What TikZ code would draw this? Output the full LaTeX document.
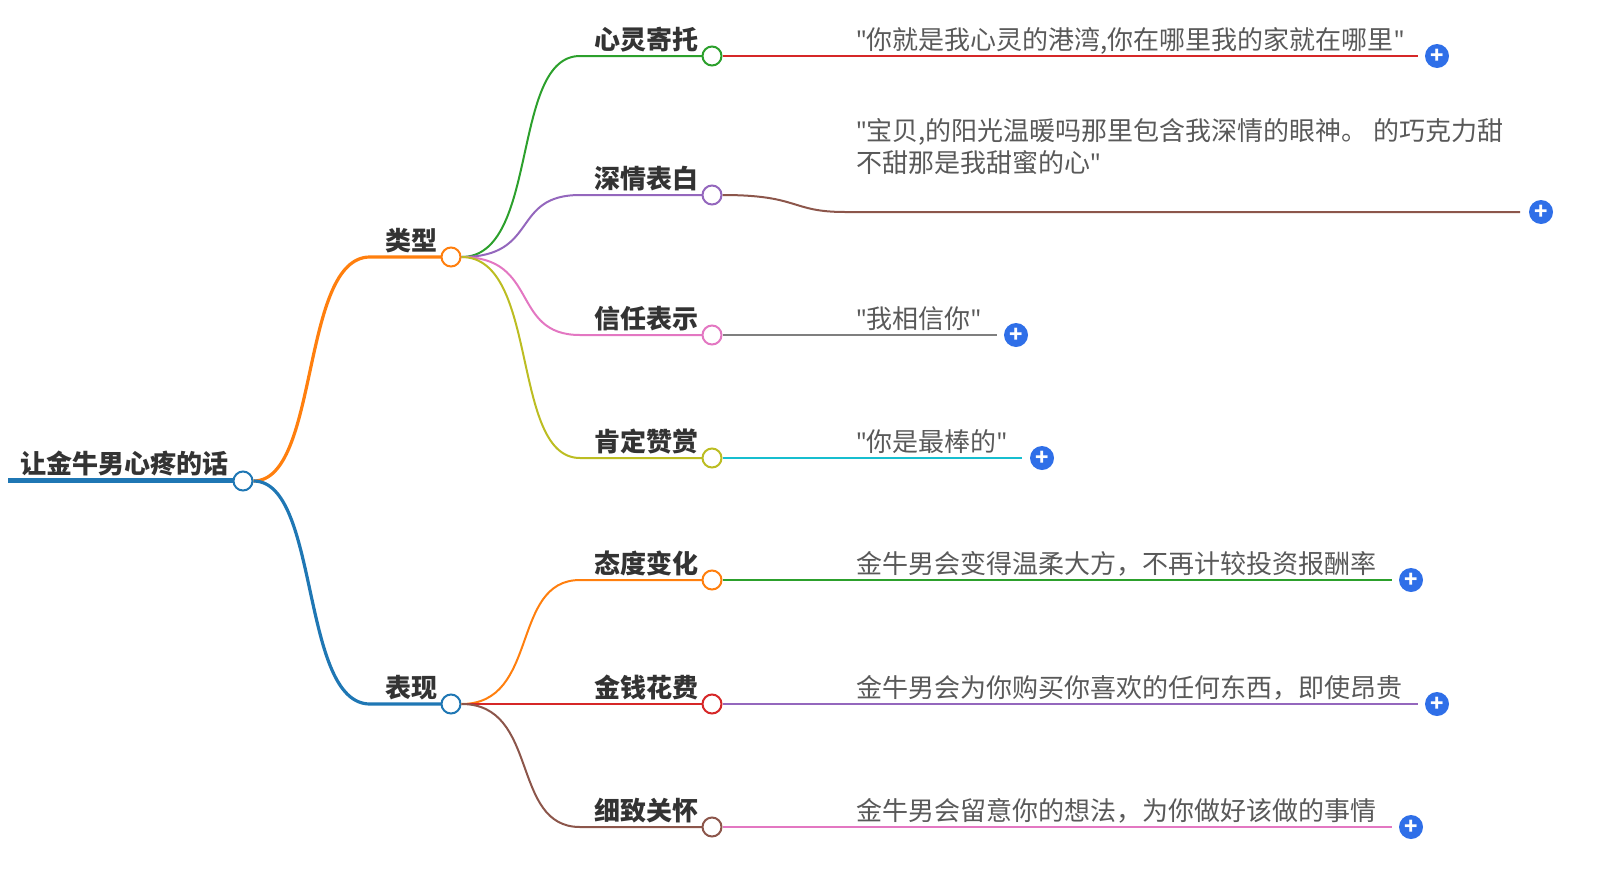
\documentclass[tikz,border=0pt]{standalone}
\usepackage{fontspec}
\setmainfont{Noto Sans CJK SC}
\newfontfamily\quotefont{Noto Sans}
\newcommand{\qm}{{\quotefont\char"0022}}
\usepackage{tikz}
\usetikzlibrary{positioning}
\definecolor{cblue}{HTML}{1F77B4}
\definecolor{corange}{HTML}{FF7F0E}
\definecolor{cgreen}{HTML}{2CA02C}
\definecolor{cred}{HTML}{D62728}
\definecolor{cpurple}{HTML}{9467BD}
\definecolor{cbrown}{HTML}{8C564B}
\definecolor{cpink}{HTML}{E377C2}
\definecolor{cgray}{HTML}{7F7F7F}
\definecolor{colive}{HTML}{BCBD22}
\definecolor{ccyan}{HTML}{17BECF}
\definecolor{cplus}{HTML}{2F6FE8}
\begin{document}
\begin{tikzpicture}
    [   x=0.5pt
    ,   y=-0.5pt
    ,   line width=1pt
    ,   topic/.style=
            {   font=\fontsize{13}{15}\selectfont\bfseries
            ,   text=black!80
            ,   inner sep=0pt
            ,   anchor=base
            }
    ,   leaf/.style=
            {   font=\fontsize{13}{16}\selectfont
            ,   text=black!65
            ,   inner sep=0pt
            ,   anchor=base west
            ,   align=left
            }
    ,   knob/.style={circle, draw, fill=white, inner sep=0pt, minimum size=9.5pt}
    ,   plus/.style={circle, fill=cplus, inner sep=0pt, minimum size=12pt,
                     text=white, font=\bfseries\fontsize{11}{11}\selectfont}
    ]
    \useasboundingbox (0,0) rectangle (1606,873);

    % root
    \node[topic] (R) at (124,473) {让金牛男心疼的话};
    \draw[cblue, line width=2.5pt] (8,480) -- (234,480);
    \node[knob, draw=cblue] (Rk) at (243,481) {};

    % first level
    \node[topic] (T) at (411,250) {类型};
    \node[topic] (B) at (411,697) {表现};
    \draw[corange, line width=1.6pt] (Rk.east) .. controls (320,481) and (300,257) .. (370,257) -- (442,257);
    \draw[cblue, line width=1.6pt] (Rk.east) .. controls (320,481) and (300,704) .. (370,704) -- (442,704);
    \node[knob, draw=corange] (Tk) at (451,257) {};
    \node[knob, draw=cblue] (Bk) at (451,704) {};

    % second level
    \node[topic] (A1) at (646,49)  {心灵寄托};
    \node[topic] (A2) at (646,188) {深情表白};
    \node[topic] (A3) at (646,328) {信任表示};
    \node[topic] (A4) at (646,451) {肯定赞赏};
    \node[topic] (B1) at (646,573) {态度变化};
    \node[topic] (B2) at (646,697) {金钱花费};
    \node[topic] (B3) at (646,820) {细致关怀};

    \draw[cgreen]  (Tk.east) .. controls (540,257) and (510,56)  .. (580,56)  -- (703,56);
    \draw[cpurple] (Tk.east) .. controls (540,257) and (510,195) .. (580,195) -- (703,195);
    \draw[cpink]   (Tk.east) .. controls (540,257) and (510,335) .. (580,335) -- (703,335);
    \draw[colive]  (Tk.east) .. controls (540,257) and (510,458) .. (580,458) -- (703,458);
    \draw[corange] (Bk.east) .. controls (540,704) and (510,580) .. (580,580) -- (703,580);
    \draw[cred]    (Bk.east) -- (703,704);
    \draw[cbrown]  (Bk.east) .. controls (540,704) and (510,827) .. (580,827) -- (703,827);

    \node[knob, draw=cgreen]  (A1k) at (712,56)  {};
    \node[knob, draw=cpurple] (A2k) at (712,195) {};
    \node[knob, draw=cpink]   (A3k) at (712,335) {};
    \node[knob, draw=colive]  (A4k) at (712,458) {};
    \node[knob, draw=corange] (B1k) at (712,580) {};
    \node[knob, draw=cred]    (B2k) at (712,704) {};
    \node[knob, draw=cbrown]  (B3k) at (712,827) {};

    % leaves
    \node[leaf] (L1) at (855,49)  {\qm{}你就是我心灵的港湾,你在哪里我的家就在哪里\qm};
    \node[leaf] (L2) at (855,172) {\qm{}宝贝,的阳光温暖吗那里包含我深情的眼神。 的巧克力甜\\不甜那是我甜蜜的心\qm};
    \node[leaf] (L3) at (855,328) {\qm{}我相信你\qm};
    \node[leaf] (L4) at (855,451) {\qm{}你是最棒的\qm};
    \node[leaf] (L5) at (855,573) {金牛男会变得温柔大方，不再计较投资报酬率};
    \node[leaf] (L6) at (855,697) {金牛男会为你购买你喜欢的任何东西，即使昂贵};
    \node[leaf] (L7) at (855,820) {金牛男会留意你的想法，为你做好该做的事情};

    \node[plus] (P1) at (1437,56)  {+};
    \node[plus] (P2) at (1541,212) {+};
    \node[plus] (P3) at (1016,335) {+};
    \node[plus] (P4) at (1042,458) {+};
    \node[plus] (P5) at (1411,580) {+};
    \node[plus] (P6) at (1437,704) {+};
    \node[plus] (P7) at (1411,827) {+};

    \draw[cred]    (A1k.east) -- (1418,56);
    \draw[cbrown]  (A2k.east) .. controls (800,195) and (790,212) .. (845,212) -- (1520,212);
    \draw[cgray]   (A3k.east) -- (997,335);
    \draw[ccyan]   (A4k.east) -- (1022,458);
    \draw[cgreen]  (B1k.east) -- (1392,580);
    \draw[cpurple] (B2k.east) -- (1418,704);
    \draw[cpink]   (B3k.east) -- (1392,827);
\end{tikzpicture}
\end{document}
